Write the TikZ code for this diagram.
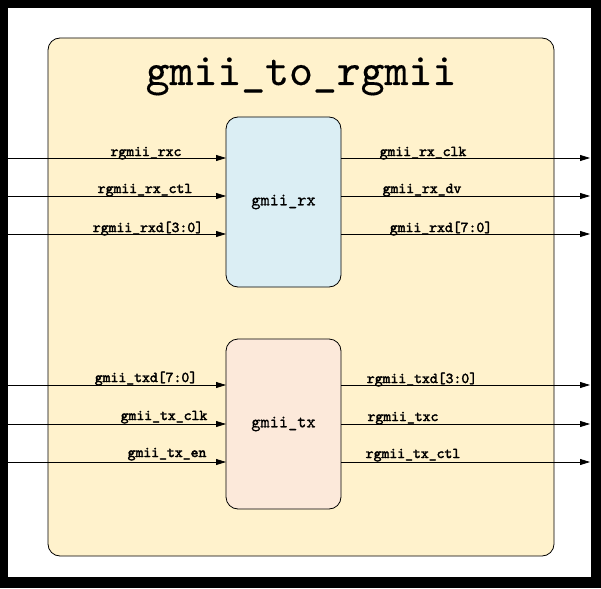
\documentclass[tikz,border=0pt]{standalone}
\usepackage{fontspec}
\newfontfamily\monob{lmmono10-regular.otf}[FakeBold=2.5]
\newfontfamily\monom{lmmono10-regular.otf}[FakeBold=0.6]
\newfontfamily\monot{lmmono10-regular.otf}[FakeBold=0.3]
\usetikzlibrary{arrows.meta}
\definecolor{bigfill}{HTML}{FFF2CC}
\definecolor{rxfill}{HTML}{DBEEF4}
\definecolor{txfill}{HTML}{FCE9DA}
\begin{document}
\begin{tikzpicture}[x=1pt,y=-1pt,
  blk/.style={draw=black, line width=0.8pt, rounded corners=12pt, inner sep=0pt, outer sep=0pt},
  sig/.style={line width=0.8pt, -{Triangle[length=10pt,width=6pt]}},
  lbl/.style={font=\monob\fontsize{15}{15}\selectfont, anchor=base, inner sep=0pt},
  boxtxt/.style={font=\monom\fontsize{17.5}{17.5}\selectfont}]
\useasboundingbox (0,0) rectangle (601,588);
\fill[black] (0,0) rectangle (601,588);
\fill[white] (8,8) rectangle (591,577);
\node[blk, fill=bigfill, minimum width=506pt, minimum height=518pt, anchor=north west] (top) at (48,38) {};
\node[font=\monot\fontsize{45.5}{45.5}\selectfont, anchor=base, inner sep=0pt] (title) at (301,85) {gmii\_to\_rgmii};
\node[blk, boxtxt, fill=rxfill, minimum width=115pt, minimum height=170pt] (rx) at (283.5,202) {gmii\_rx};
\node[blk, boxtxt, fill=txfill, minimum width=115pt, minimum height=170pt] (tx) at (283.5,424) {gmii\_tx};
% rx inputs
\coordinate (i1) at (8,158);
\coordinate (i2) at (8,196);
\coordinate (i3) at (8,234);
\draw[sig] (i1) -- (i1 -| rx.west);
\draw[sig] (i2) -- (i2 -| rx.west);
\draw[sig] (i3) -- (i3 -| rx.west);
% rx outputs
\coordinate (o1) at (590,158);
\coordinate (o2) at (590,196);
\coordinate (o3) at (590,234);
\draw[sig] (o1 -| rx.east) -- (o1);
\draw[sig] (o2 -| rx.east) -- (o2);
\draw[sig] (o3 -| rx.east) -- (o3);
% tx inputs
\coordinate (j1) at (8,385);
\coordinate (j2) at (8,424);
\coordinate (j3) at (8,462);
\draw[sig] (j1) -- (j1 -| tx.west);
\draw[sig] (j2) -- (j2 -| tx.west);
\draw[sig] (j3) -- (j3 -| tx.west);
% tx outputs
\coordinate (p1) at (590,385);
\coordinate (p2) at (590,424);
\coordinate (p3) at (590,462);
\draw[sig] (p1 -| tx.east) -- (p1);
\draw[sig] (p2 -| tx.east) -- (p2);
\draw[sig] (p3 -| tx.east) -- (p3);
% labels
\node[lbl] (la1) at (146,156) {rgmii\_rxc};
\node[lbl] (la2) at (145,193) {rgmii\_rx\_ctl};
\node[lbl] (la3) at (148,232) {rgmii\_rxd[3:0]};
\node[lbl] (lb1) at (423,156) {gmii\_rx\_clk};
\node[lbl] (lb2) at (422,193) {gmii\_rx\_dv};
\node[lbl] (lb3) at (441,232) {gmii\_rxd[7:0]};
\node[lbl] (lc1) at (146,382) {gmii\_txd[7:0]};
\node[lbl] (lc2) at (164,420) {gmii\_tx\_clk};
\node[lbl] (lc3) at (167,457) {gmii\_tx\_en};
\node[lbl] (ld1) at (422,383) {rgmii\_txd[3:0]};
\node[lbl] (ld2) at (403,421) {rgmii\_txc};
\node[lbl] (ld3) at (413,458) {rgmii\_tx\_ctl};
\end{tikzpicture}
\end{document}
